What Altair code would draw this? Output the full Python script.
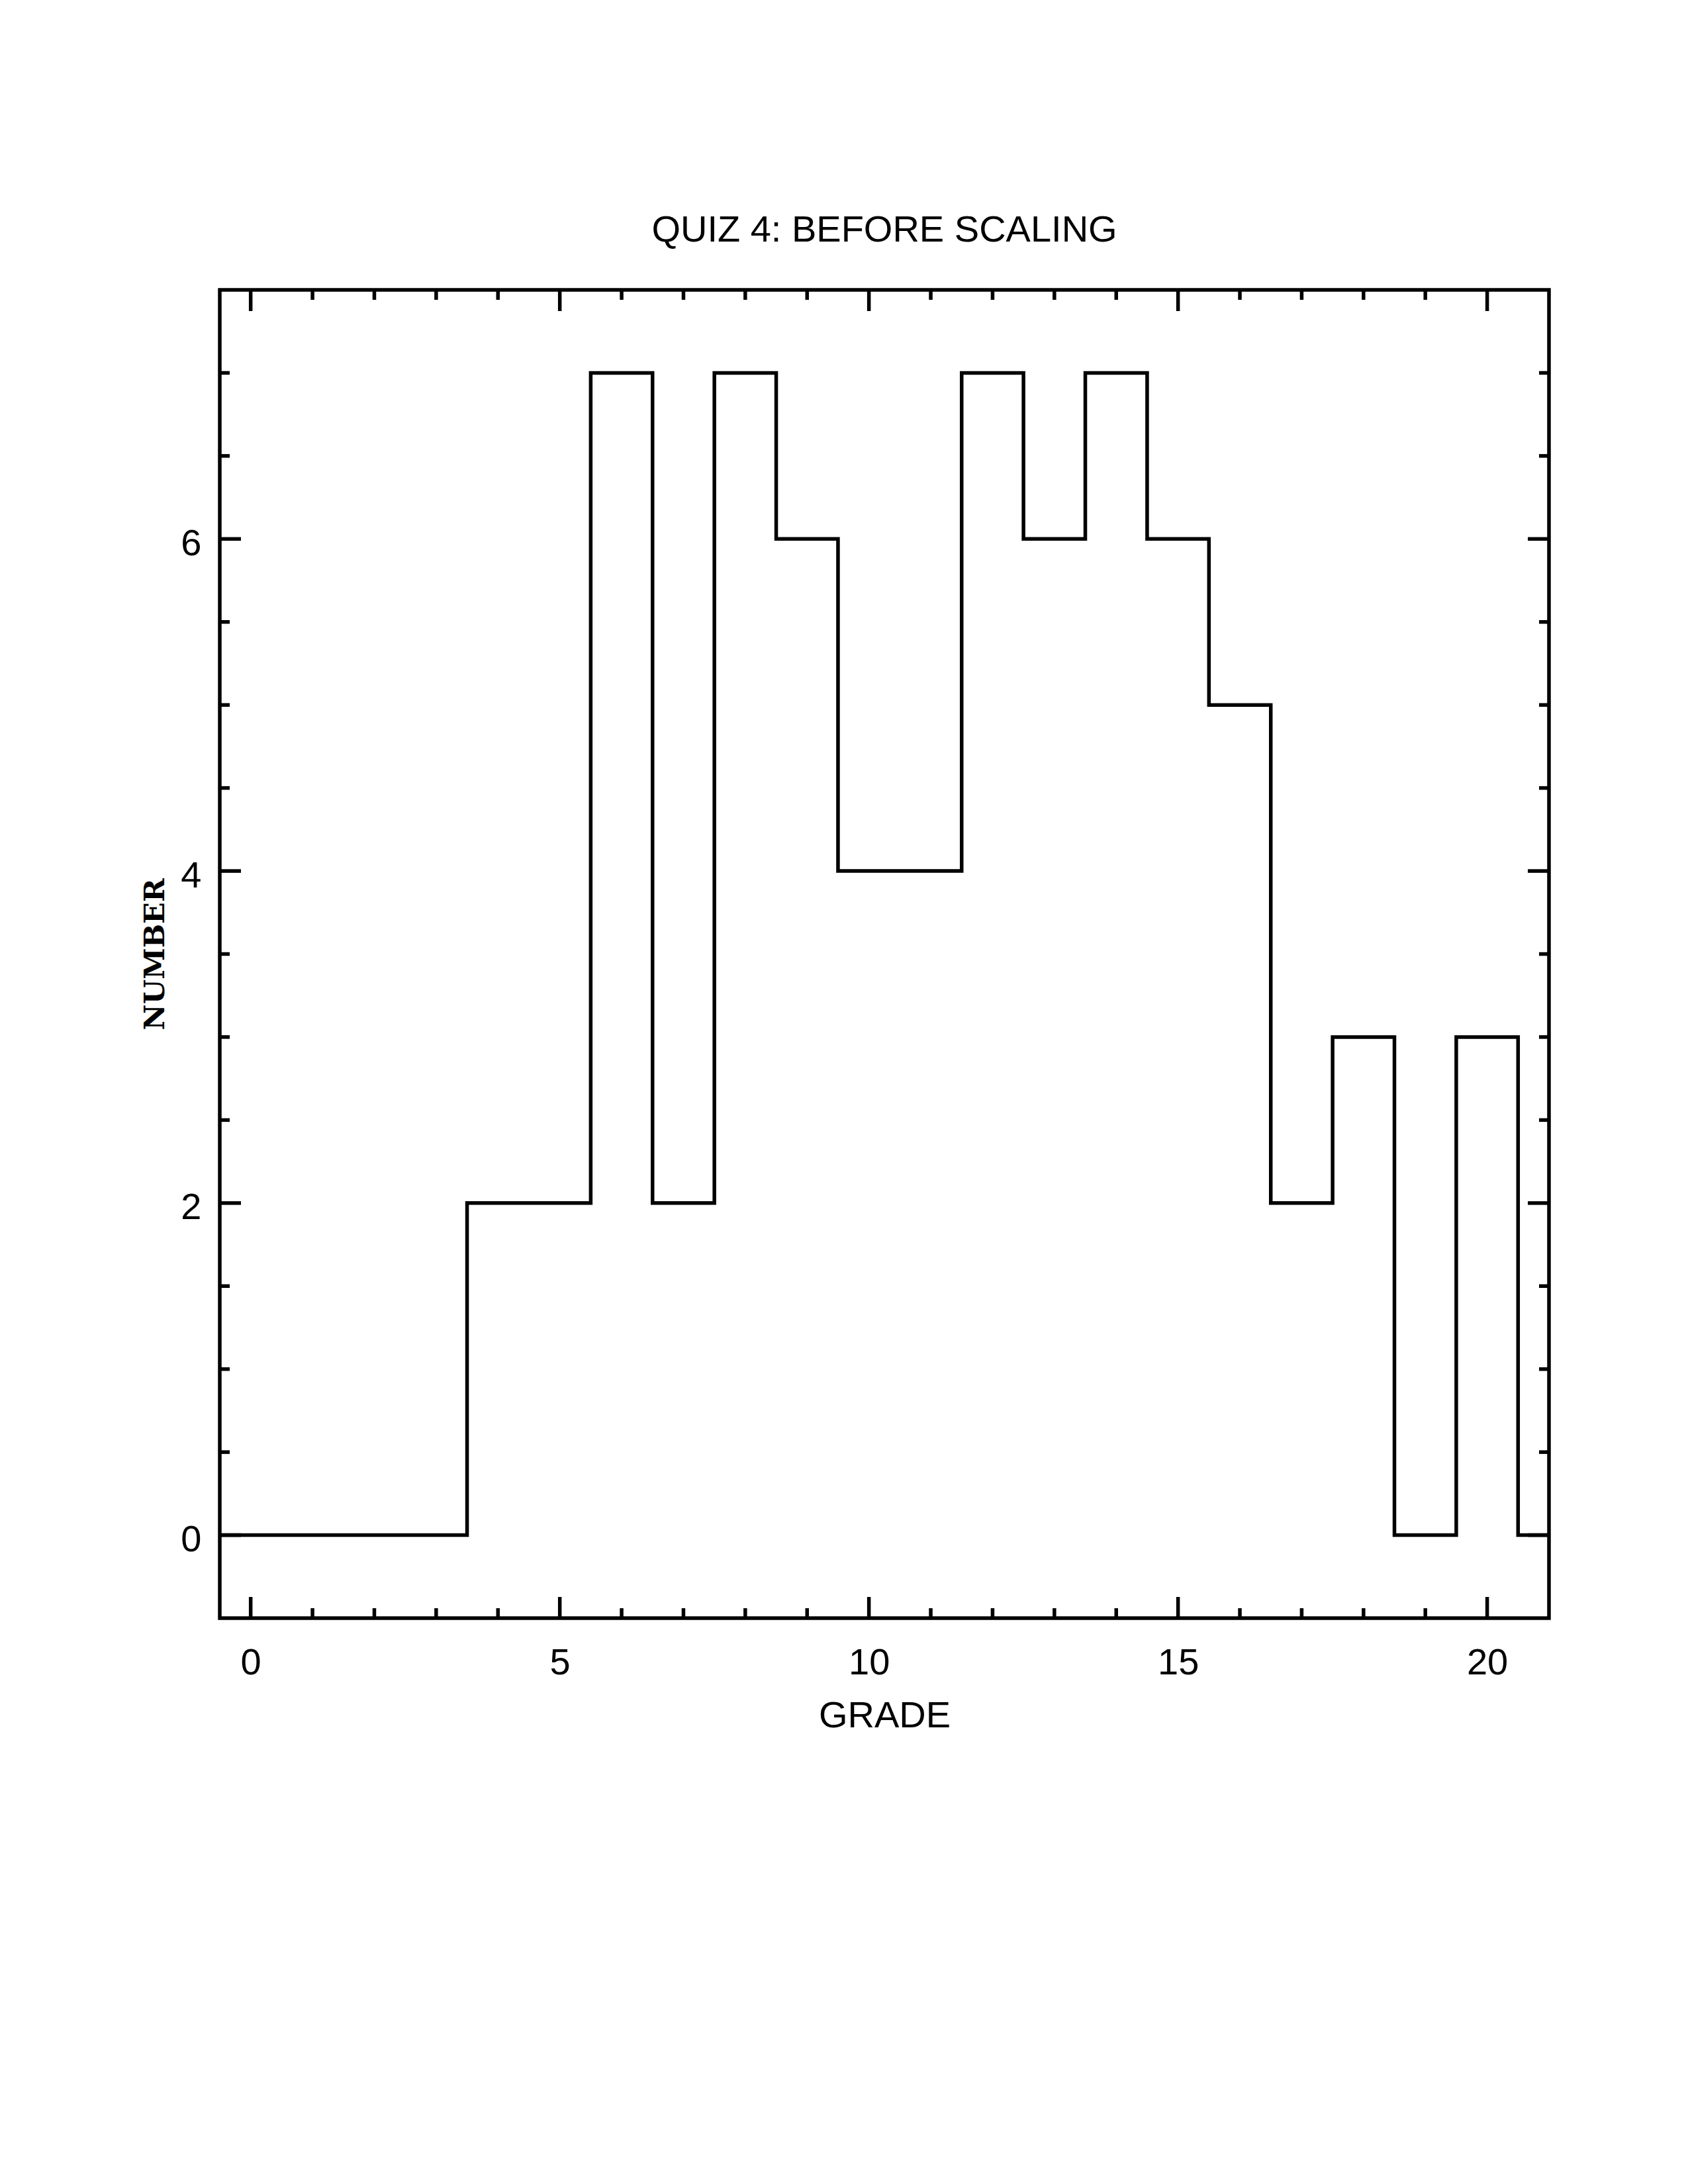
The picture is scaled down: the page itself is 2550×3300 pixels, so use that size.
import altair as alt
import pandas as pd

# ---- data ----
grades = list(range(22))
counts = [0, 0, 0, 0, 2, 2, 7, 2, 7, 6, 4, 4, 7, 6, 7, 6, 5, 2, 3, 0, 3, 0]
x_major = [0, 5, 10, 15, 20]
x_minor = [g for g in range(1, 21) if g % 5 != 0]
y_major = [0, 2, 4, 6]
y_minor = [v / 2 for v in range(1, 15) if v % 4 != 0]

X_DOMAIN = [-0.5, 21]
Y_DOMAIN = [-0.5, 7.5]
W, H = 2008, 2007
LW = 5.5
SANS = "Liberation Sans, Arial, Helvetica, sans-serif"
SERIF = "DejaVu Serif, serif"

# step histogram: each count spans its grade +/- 0.5, last bin clipped at 21
edges = [g - 0.5 for g in grades] + [X_DOMAIN[1]]
vals = counts + [counts[-1]]
hist = pd.DataFrame({"edge": edges, "count": vals})

xs = alt.Scale(domain=X_DOMAIN, nice=False, zero=False)
ys = alt.Scale(domain=Y_DOMAIN, nice=False, zero=False)

x_axis = alt.Axis(values=x_major, ticks=False, tickSize=0, domain=False, grid=False,
                  labelFont=SANS, labelFontSize=56, labelColor="black",
                  labelPadding=40, labelFlush=False,
                  title="GRADE", titleFont=SANS, titleFontSize=56,
                  titleFontWeight="normal", titleColor="black", titlePadding=25)
y_axis = alt.Axis(values=y_major, ticks=False, tickSize=0, domain=False, grid=False,
                  labelFont=SANS, labelFontSize=56, labelColor="black",
                  labelPadding=28, labelFlush=False, labelOffset=7,
                  title="NUMBER", titleFont=SERIF, titleFontSize=43,
                  titleFontWeight="bold", titleColor="black", titlePadding=16)

line = alt.Chart(hist).mark_line(
    interpolate="step-after", color="black", strokeWidth=LW, strokeJoin="miter", clip=True
).encode(
    x=alt.X("edge:Q", scale=xs, axis=x_axis, title="GRADE"),
    y=alt.Y("count:Q", scale=ys, axis=y_axis, title="NUMBER"),
)


def xticks(vals_, length):
    df = pd.DataFrame({"v": vals_})
    base = alt.Chart(df).mark_rule(color="black", strokeWidth=LW)
    bottom = base.encode(x=alt.X("v:Q", scale=xs, axis=x_axis, title="GRADE"),
                         y=alt.value(H), y2=alt.value(H - length))
    top = base.encode(x=alt.X("v:Q", scale=xs, axis=x_axis, title="GRADE"),
                      y=alt.value(0), y2=alt.value(length))
    return [bottom, top]


def yticks(vals_, length):
    df = pd.DataFrame({"v": vals_})
    base = alt.Chart(df).mark_rule(color="black", strokeWidth=LW)
    left = base.encode(y=alt.Y("v:Q", scale=ys, axis=y_axis, title="NUMBER"),
                       x=alt.value(0), x2=alt.value(length))
    right = base.encode(y=alt.Y("v:Q", scale=ys, axis=y_axis, title="NUMBER"),
                        x=alt.value(W), x2=alt.value(W - length))
    return [left, right]


layers = [line] + xticks(x_major, 32) + xticks(x_minor, 15) + yticks(y_major, 32) + yticks(y_minor, 15)

chart = alt.layer(*layers).properties(
    width=W, height=H,
    background="white",
    title=alt.TitleParams("QUIZ 4: BEFORE SCALING", font=SANS, fontSize=56,
                          fontWeight="normal", color="black", anchor="middle",
                          baseline="alphabetic", offset=14),
    autosize=alt.AutoSizeParams(type="none"),
    padding={"left": 324, "top": 430, "right": 180, "bottom": 800},
).configure_view(
    stroke="black", strokeWidth=LW, fill="white"
)

chart.save("out.html", embed_options={"renderer": "svg", "actions": False})
